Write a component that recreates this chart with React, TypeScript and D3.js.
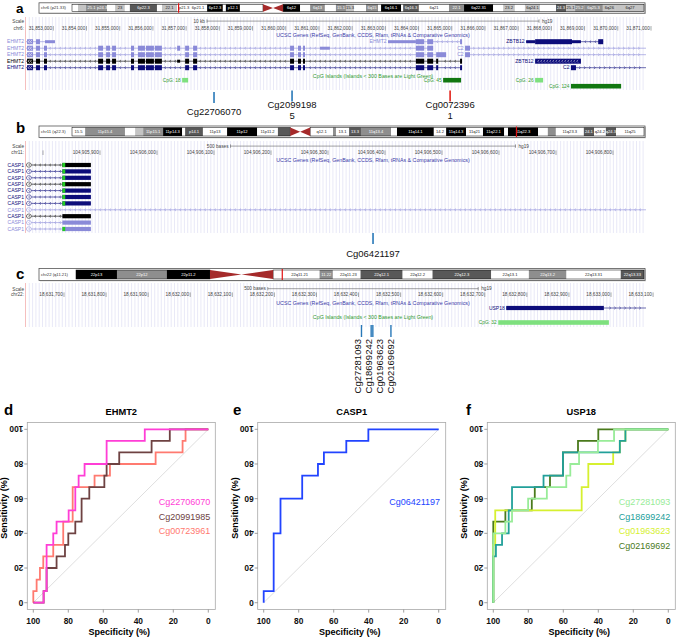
import React from "react";
import * as d3 from "d3";

const FONT = "'Liberation Sans', Arial, Helvetica, sans-serif";

/* ===================== Genome browser data (panels a–c) ===================== */
type Band = [string, number, number, string];

const CHR6_NAME = "chr6 (p21.33)";
const CHR6_LENGTH = 171.0;
const CHR6_MARK = 31.86;
const CHR6_BANDS: Band[] = [
  ["", 0, 1.8, "gneg"], ["", 1.8, 4.2, "gpos25"], ["25.1", 4.2, 7.5, "gpos50"], ["p24.3", 7.5, 10.5, "gpos50"],
  ["", 10.5, 12.9, "gneg"], ["23", 12.9, 15.8, "gpos25"], ["", 15.8, 17.3, "gneg"], ["6p22.3", 17.3, 25.4, "gpos75"],
  ["", 25.4, 26.9, "gneg"], ["22.1", 26.9, 31.4, "gpos25"], ["p21.3", 31.4, 35.6, "gneg"], ["6p21.1", 35.6, 39.8, "gneg"],
  ["", 39.8, 40.4, "gneg"], ["6p12.3", 40.4, 45.1, "gpos100"], ["", 45.1, 46.0, "gneg"], ["p12.1", 46.0, 50.2, "gpos100"],
  ["", 50.2, 57.1, "gneg"], ["", 57.1, 63.1, "acen"], ["6q12", 63.1, 68.2, "gpos100"], ["", 68.2, 71.2, "gneg"],
  ["6q13", 71.2, 75.6, "gpos50"], ["", 75.6, 78.9, "gneg"], ["15.1", 78.9, 81.9, "gpos50"], ["15.3", 81.9, 84.3, "gpos25"],
  ["", 84.3, 87.9, "gneg"], ["6q15", 87.9, 91.5, "gpos50"], ["", 91.5, 92.4, "gneg"], ["6q16.1", 92.4, 98.4, "gpos100"],
  ["", 98.4, 99.0, "gneg"], ["6q16.3", 99.0, 103.7, "gpos75"], ["6q21", 103.7, 112.7, "gneg"], ["22.1", 112.7, 117.2, "gpos50"],
  ["6q22.31", 117.2, 125.9, "gpos100"], ["", 125.9, 128.9, "gneg"], ["23.2", 128.9, 132.4, "gpos25"], ["6q23.3", 132.4, 135.4, "gneg"],
  ["6q24.1", 135.4, 139.9, "gpos25"], ["", 139.9, 144.7, "gneg"], ["24.3", 144.7, 147.7, "gpos75"], ["25.1", 147.7, 150.4, "gpos25"],
  ["25.2", 150.4, 153.1, "gpos50"], ["6q25.3", 153.1, 158.7, "gpos50"], ["6q26", 158.7, 162.6, "gpos25"], ["6q27", 162.6, 171.0, "gpos25"],
];

const CHR11_NAME = "chr11 (q22.3)";
const CHR11_LENGTH = 135.0;
const CHR11_MARK = 104.9;
const CHR11_BANDS: Band[] = [
  ["15.5", 0, 3.1, "gneg"], ["11p15.4", 3.1, 12.5, "gpos50"], ["", 12.5, 14.9, "gneg"], ["p15.2", 14.9, 16.8, "gpos25"],
  ["11p15.1", 16.8, 21.5, "gpos50"], ["11p14.3", 21.5, 26.0, "gpos100"], ["", 26.0, 26.7, "gneg"], ["p14.1", 26.7, 30.9, "gpos75"],
  ["11p13", 30.9, 36.6, "gneg"], ["11p12", 36.6, 43.7, "gpos100"], ["11p11.2", 43.7, 48.6, "gneg"], ["", 48.6, 51.5, "gpos75"],
  ["", 51.5, 56.2, "acen"], ["q12.1", 56.2, 61.6, "gneg"], ["", 61.6, 62.3, "gpos50"], ["13.1", 62.3, 65.4, "gneg"],
  ["13.3", 65.4, 68.2, "gpos75"], ["11q13.4", 68.2, 75.3, "gpos50"], ["", 75.3, 76.7, "gneg"], ["11q14.1", 76.7, 85.4, "gpos100"],
  ["14.2", 85.4, 88.3, "gneg"], ["11q14.3", 88.3, 93.0, "gpos100"], ["11q21", 93.0, 97.0, "gneg"], ["11q22.1", 97.0, 102.0, "gpos100"],
  ["", 102.0, 102.9, "gneg"], ["11q22.3", 102.9, 110.0, "gpos100"], ["", 110.0, 112.3, "gneg"], ["", 112.3, 114.2, "gpos50"],
  ["11q23.3", 114.2, 120.8, "gneg"], ["24.1", 120.8, 123.2, "gpos75"], ["q24.2", 123.2, 126.0, "gneg"], ["q24.3", 126.0, 128.4, "gpos75"],
  ["11q25", 128.4, 135.0, "gneg"],
];

const CHR22_NAME = "chr22 (q11.21)";
const CHR22_LENGTH = 51.3;
const CHR22_MARK = 18.63;
const CHR22_BANDS: Band[] = [
  ["22p13", 0, 3.7, "gpos100"], ["22p12", 3.7, 8.2, "gpos50"], ["22p11.2", 8.2, 12.1, "gpos100"], ["", 12.1, 17.8, "acen"],
  ["", 17.8, 18.4, "gneg"], ["22q11.21", 18.4, 22.0, "gneg"], ["11.22", 22.0, 23.2, "gpos50"], ["", 23.2, 23.5, "gneg"],
  ["22q11.23", 23.5, 25.7, "gneg"], ["22q12.1", 25.7, 29.5, "gpos75"], ["22q12.2", 29.5, 32.2, "gneg"], ["22q12.3", 32.2, 37.5, "gpos75"],
  ["22q13.1", 37.5, 40.9, "gneg"], ["22q13.2", 40.9, 44.3, "gpos50"], ["22q13.31", 44.3, 49.2, "gneg"], ["22q13.33", 49.2, 51.3, "gpos75"],
];

/* rulers */
const A_TICKS = [31853000, 31854000, 31855000, 31856000, 31857000, 31858000, 31859000, 31860000, 31861000, 31862000,
  31863000, 31864000, 31865000, 31866000, 31867000, 31868000, 31869000, 31870000, 31871000];
const B_TICKS = [104905800, 104905900, 104906000, 104906100, 104906200, 104906300, 104906400, 104906500, 104906600, 104906700, 104906800];
const C_TICKS = [18631700, 18631800, 18631900, 18632000, 18632100, 18632200, 18632300, 18632400, 18632500, 18632600,
  18632700, 18632800, 18632900, 18633000, 18633100];

/* panel a genes (positions in kb) */
const EHMT2_CORE: [number, number][] = [
  [31852.21, 31852.39], [31852.48, 31852.60], [31852.72, 31852.81],
  [31854.35, 31854.50], [31854.59, 31854.71], [31854.77, 31854.89],
  [31855.34, 31855.43], [31855.55, 31855.76], [31855.79, 31856.03], [31856.06, 31856.27],
  [31856.97, 31857.09], [31857.21, 31857.33],
  [31860.13, 31860.25], [31860.37, 31860.46], [31860.52, 31860.58],
  [31863.92, 31864.17], [31864.26, 31864.44],
];
const EHMT2_EXTRA_A: [number, number] = [31856.73, 31856.82];
const EHMT2_E19: [number, number] = [31864.53, 31864.59];
const EHMT2_E20: [number, number] = [31865.25, 31865.31];
const thick = (e: [number, number]) => [e[0], e[1], 1];
const thin = (e: [number, number]) => [e[0], e[1], 0];

const A_ROWS = [
  [
    { name: "EHMT2", kind: "light", strand: -1, start: 31852.0, end: 31853.05, blocks: [[31852.21, 31852.39, 1], [31852.48, 31852.60, 1], [31852.75, 31853.05, 0]] },
    { name: "EHMT2", kind: "light", strand: -1, start: 31863.08, end: 31865.31, inline: true, blocks: [[31863.08, 31863.92, 0], [31863.92, 31864.17, 1], [31864.26, 31864.44, 1], [31865.25, 31865.31, 1]] },
    { name: "ZBTB12", kind: "navy", strand: -1, start: 31867.24, end: 31869.56, inline: true, blocks: [[31867.24, 31867.51, 0], [31867.51, 31868.62, 1], [31868.62, 31868.89, 0], [31869.41, 31869.56, 1]] },
  ],
  [
    { name: "EHMT2", kind: "light", strand: -1, start: 31852.0, end: 31864.44, blocks: [...EHMT2_CORE.map(thick), thick(EHMT2_EXTRA_A), [31861.03, 31861.33, 0]] },
    { name: "C2", kind: "light", strand: 1, start: 31865.40, end: 31872.0, inline: true, blocks: [[31865.40, 31865.55, 1]] },
  ],
  [
    { name: "EHMT2", kind: "light", strand: -1, start: 31852.0, end: 31864.83, blocks: [...EHMT2_CORE.map(thick), [31864.53, 31864.83, 1]] },
    { name: "C2", kind: "light", strand: 1, start: 31865.40, end: 31872.0, inline: true, blocks: [[31865.40, 31865.55, 1]] },
  ],
  [
    { name: "EHMT2", kind: "black", strand: -1, start: 31852.0, end: 31865.31, blocks: [...EHMT2_CORE.map(thick), thin(EHMT2_EXTRA_A), thick(EHMT2_E19), thick(EHMT2_E20)] },
    { name: "ZBTB12", kind: "navy", strand: -1, start: 31867.51, end: 31868.89, inline: true, hatched: true, blocks: [[31867.51, 31868.89, 1]] },
  ],
  [
    { name: "EHMT2", kind: "navy", strand: -1, start: 31852.0, end: 31865.31, blocks: [...EHMT2_CORE.map(thick), thick(EHMT2_E19), thick(EHMT2_E20)] },
    { name: "C2", kind: "navy", strand: 1, start: 31868.59, end: 31872.0, inline: true, blocks: [[31868.59, 31868.74, 1]] },
  ],
];

const A_CPG = [
  { label: "CpG: 18", start: 31856.88, end: 31857.06, small: true, row: 0 },
  { label: "CpG: 45", start: 31864.74, end: 31865.28, small: false, row: 0 },
  { label: "CpG: 26", start: 31867.51, end: 31867.75, small: true, row: 0 },
  { label: "CpG: 124", start: 31868.59, end: 31870.10, small: false, row: 1 },
];

const A_PROBES = [
  { id: "Cg22706070", pos: 31857.84, color: "#2878b8", wrap: false },
  { id: "Cg20991985", pos: 31860.19, color: "#2878b8", wrap: true },
  { id: "Cg00723961", pos: 31864.95, color: "#e2231a", wrap: true },
];

/* panel b (bp) */
const CASP1_KINDS = ["black", "navy", "navy", "black", "navy", "navy", "navy", "light", "black", "light", "light"];
const CASP1_HAS_START = [1, 1, 1, 1, 1, 1, 1, 0, 0, 0, 1];
const CASP1_HAS_EXON = [1, 1, 1, 1, 1, 1, 1, 0, 1, 1, 1];
const CASP1_EXON: [number, number] = [104905834, 104905884];
const CASP1_START_CODON: [number, number] = [104905834, 104905839];
const CASP1_TX_START = 104905600;
const CASP1_LONG_END = 104907000;
const B_PROBES = [{ id: "Cg06421197", pos: 104906379, color: "#2878b8" }];

/* panel c (bp) */
const USP18_TX = { name: "USP18", kind: "navy", strand: 1, start: 18632751, end: 18633110, inline: true, blocks: [[18632751, 18632983, 1]] };
const C_CPG = [{ label: "CpG: 32", start: 18632732, end: 18632995, small: true }];
const C_PROBES = [
  { id: "Cg27281093", pos: 18632407 },
  { id: "Cg18699242", pos: 18632430 },
  { id: "Cg01963623", pos: 18632434 },
  { id: "Cg02169692", pos: 18632477 },
];

/* ===================== ROC data (specificity %, sensitivity %) ===================== */
const D_CG22706070_SPEC = [100, 94.1, 94.1, 92.4, 92.4, 88.6, 88.6, 86.7, 86.7, 79.8, 79.8, 76, 76, 74.1, 74.1, 70.7, 70.7, 58.1, 58.1, 36.3, 36.3, 0];
const D_CG22706070_SENS = [0, 0, 6.7, 6.7, 33.3, 33.3, 40, 40, 46.7, 46.7, 53.3, 53.3, 66.7, 66.7, 73.3, 73.3, 80, 80, 93.3, 93.3, 100, 100];
const D_CG20991985_SPEC = [100, 94.1, 94.1, 92.4, 92.4, 86.7, 86.7, 81.9, 81.9, 80, 80, 76, 76, 72.4, 72.4, 68, 68, 59.4, 59.4, 58.1, 58.1, 50.9, 50.9, 32.4, 32.4, 22, 22, 0];
const D_CG20991985_SENS = [0, 0, 6.7, 6.7, 20, 20, 26.7, 26.7, 33.3, 33.3, 40, 40, 46.7, 46.7, 60, 60, 66.7, 66.7, 73.3, 73.3, 80, 80, 86.7, 86.7, 93.3, 93.3, 100, 100];
const D_CG00723961_SPEC = [100, 100, 98.1, 98.1, 96.2, 96.2, 94.3, 94.3, 88.6, 88.6, 82.9, 82.9, 77.5, 77.5, 65, 65, 56.2, 56.2, 30.1, 30.1, 14.7, 14.7, 13, 13, 0];
const D_CG00723961_SENS = [0, 6.7, 6.7, 13.3, 13.3, 20, 20, 26.7, 26.7, 33.3, 33.3, 46.7, 46.7, 66.7, 66.7, 73.3, 73.3, 80, 80, 86.7, 86.7, 93.3, 93.3, 100, 100];

const E_CG06421197_SPEC = [100, 100, 94.3, 94.3, 90.4, 90.4, 78, 78, 69, 69, 65.6, 65.6, 52.8, 52.8, 40.2, 40.2, 0];
const E_CG06421197_SENS = [0, 6.7, 6.7, 40, 40, 60, 60, 73.3, 73.3, 80, 80, 86.7, 86.7, 93.3, 93.3, 100, 100];

const F_CG27281093_SPEC = [100, 100, 93.1, 93.1, 89.3, 89.3, 80.1, 80.1, 69.4, 69.4, 58.3, 58.3, 56, 56, 51, 51, 40.2, 40.2, 31, 31, 0];
const F_CG27281093_SENS = [0, 40, 40, 46.7, 46.7, 53.3, 53.3, 60, 60, 66.7, 66.7, 73.3, 73.3, 80, 80, 86.7, 86.7, 93.3, 93.3, 100, 100];
const F_CG18699242_SPEC = [100, 100, 98.5, 98.5, 95, 95, 91.2, 91.2, 89.3, 89.3, 71.3, 71.3, 60.2, 60.2, 27.7, 27.7, 24.5, 24.5, 0];
const F_CG18699242_SENS = [0, 26.7, 26.7, 33.3, 33.3, 40, 40, 53.3, 53.3, 66.7, 66.7, 73.3, 73.3, 86.7, 86.7, 93.3, 93.3, 100, 100];
const F_CG01963623_SPEC = [100, 100, 98.9, 98.9, 49.5, 49.5, 45.7, 45.7, 31.5, 31.5, 27.7, 27.7, 24.5, 24.5, 0];
const F_CG01963623_SENS = [0, 33.3, 33.3, 53.3, 53.3, 66.7, 66.7, 80, 80, 86.7, 86.7, 93.3, 93.3, 100, 100];
const F_CG02169692_SPEC = [100, 100, 93.1, 93.1, 78, 78, 76.3, 76.3, 67.6, 67.6, 60.2, 60.2, 51.6, 51.6, 40, 40, 0];
const F_CG02169692_SENS = [0, 46.7, 46.7, 53.3, 53.3, 60, 60, 66.7, 66.7, 73.3, 73.3, 86.7, 86.7, 93.3, 93.3, 100, 100];

const ROC_TICKS = [100, 80, 60, 40, 20, 0];

/* ===================== styles ===================== */
const STAIN: Record<string, string> = { gneg: "#ffffff", gpos25: "#c4c4c4", gpos50: "#8e8e8e", gpos75: "#585858", gpos100: "#000000" };
const KIND_COLOR: Record<string, string> = { light: "#8a8ad8", navy: "#0c0c7a", black: "#000000" };
const CPG_LIGHT = "#7ee07e";
const CPG_DARK = "#117711";
const UCSC_TITLE = "#3a3aa8";
const CPG_TITLE = "#2f9a2f";
const WIN_L = 26, WIN_R = 646;

/* ===================== components ===================== */
function Ideogram({ y, h, name, len, bands, mark, x0 }: any) {
  const FR_L = 39, FR_R = 645, END = 644;
  const sx = d3.scaleLinear().domain([0, len]).range([x0, END]);
  const by = y + 1.5, bh = h - 3;
  const ac = bands.filter((b: Band) => b[3] === "acen");
  const acS = sx(ac[0][1]), acE = sx(ac[ac.length - 1][2]), acM = (acS + acE) / 2;
  return (
    <g>
      <rect x={FR_L + 0.8} y={y + 0.8} width={FR_R - FR_L} height={h} fill="#c8c8c8" />
      <rect x={FR_L} y={y} width={FR_R - FR_L} height={h} fill="#fff" stroke="#555" strokeWidth={0.8} />
      <text x={FR_L + 2} y={y + h / 2} dy="0.35em" fontSize={4.2} fill="#333">{name}</text>
      {bands.filter((b: Band) => b[3] !== "acen").map((b: Band, i: number) => (
        <rect key={i} x={sx(b[1])} y={by} width={sx(b[2]) - sx(b[1])} height={bh} fill={STAIN[b[3]]} />
      ))}
      <rect x={x0} y={by} width={acS - x0} height={bh} fill="none" stroke="#000" strokeWidth={0.5} />
      <rect x={acE} y={by} width={END - acE} height={bh} fill="none" stroke="#000" strokeWidth={0.5} />
      <polygon points={`${acS},${by} ${acM},${by + bh / 2} ${acS},${by + bh}`} fill="#a52a2a" />
      <polygon points={`${acE},${by} ${acM},${by + bh / 2} ${acE},${by + bh}`} fill="#a52a2a" />
      {bands.filter((b: Band) => b[0] && b[3] !== "acen").map((b: Band, i: number) => {
        const w = sx(b[2]) - sx(b[1]);
        if (w < b[0].length * 2.0) return null;
        const dark = b[3] === "gpos100" || b[3] === "gpos75" || b[3] === "gpos50";
        return (
          <text key={i} x={(sx(b[1]) + sx(b[2])) / 2} y={by + bh / 2} dy="0.35em" textAnchor="middle" fontSize={4.1} fill={dark ? "#fff" : "#222"}>{b[0]}</text>
        );
      })}
      <line x1={sx(mark)} x2={sx(mark)} y1={y + 0.5} y2={y + h - 0.5} stroke="#e01010" strokeWidth={1.2} />
    </g>
  );
}

function Gridlines({ y0, y1 }: any) {
  const xs = d3.range(WIN_L + 3.3, WIN_R, 3.3);
  return (
    <g>
      {xs.map((x, i) => <line key={i} x1={x} x2={x} y1={y0} y2={y1} stroke="#dfe0f4" strokeWidth={0.7} />)}
      <line x1={WIN_L - 0.5} x2={WIN_L - 0.5} y1={y0} y2={y1} stroke="#f4b8b8" strokeWidth={0.9} />
    </g>
  );
}

function Ruler({ x, ticks, chrom, yScale, yPos, barLabel, barLen }: any) {
  const center = 373;
  const bx0 = center - barLen / 2, bx1 = center + barLen / 2;
  const fmt = d3.format(",");
  return (
    <g fontSize={4.7} fill="#444">
      <text x={24} y={yScale} dy="0.35em" textAnchor="end">Scale</text>
      <text x={24} y={yPos} dy="0.35em" textAnchor="end">{chrom}</text>
      <text x={bx0 - 2} y={yScale - 0.6} dy="0.35em" textAnchor="end">{barLabel}</text>
      <line x1={bx0} x2={bx1} y1={yScale - 0.6} y2={yScale - 0.6} stroke="#444" strokeWidth={0.5} />
      <line x1={bx0} x2={bx0} y1={yScale - 2.3} y2={yScale + 1.1} stroke="#444" strokeWidth={0.5} />
      <line x1={bx1} x2={bx1} y1={yScale - 2.3} y2={yScale + 1.1} stroke="#444" strokeWidth={0.5} />
      <text x={bx1 + 3} y={yScale - 0.6} dy="0.35em">hg19</text>
      {ticks.map((t: number, i: number) => {
        const tx = x(t);
        const show = tx - 26 > WIN_L;
        return (
          <g key={i}>
            <line x1={tx} x2={tx} y1={yPos - 2.3} y2={yPos + 2.3} stroke="#555" strokeWidth={0.5} />
            {show && <text x={tx - 1.2} y={yPos} dy="0.35em" textAnchor="end">{fmt(t)}</text>}
          </g>
        );
      })}
    </g>
  );
}

function chevronPath(cx: number, y: number, s: number, a = 1.0, b = 1.3) {
  return `M${cx - s * a},${y - b}L${cx + s * 0.4},${y}L${cx - s * a},${y + b}`;
}

function Transcript({ tx, x, y, marginLabel, thickH = 5, thinH = 3, startMark }: any) {
  const col = KIND_COLOR[tx.kind];
  const xs = Math.max(x(tx.start), WIN_L), xe = Math.min(x(tx.end), WIN_R);
  const blocks = tx.blocks.map((b: number[]) => ({ x0: x(b[0]), x1: x(b[1]), t: b[2] }));
  const chevs: number[] = [];
  for (let cx = xs + 4; cx < xe - 2; cx += 5) {
    if (blocks.some((b: any) => cx > b.x0 - 2 && cx < b.x1 + 2)) continue;
    chevs.push(cx);
  }
  const offLeft = x(tx.start) < WIN_L;
  const firstTouches = blocks.length && blocks[0].x0 < WIN_L + 3;
  return (
    <g>
      <line x1={xs} x2={xe} y1={y} y2={y} stroke={col} strokeWidth={0.6} />
      {chevs.map((c, i) => <path key={i} d={chevronPath(c, y, tx.strand)} stroke={col} strokeWidth={0.5} fill="none" />)}
      {blocks.map((b: any, i: number) => {
        const h = b.t === 1 ? thickH : thinH;
        return <rect key={i} x={b.x0} y={y - h / 2} width={Math.max(0.8, b.x1 - b.x0)} height={h} fill={col} />;
      })}
      {tx.hatched && blocks.map((b: any, i: number) => (
        <g key={"w" + i}>
          {d3.range(b.x0 + 3, b.x1 - 1, 3).map((c: number, j: number) => (
            <path key={j} d={chevronPath(c, y, tx.strand, 0.9, 1.3)} stroke="#fff" strokeWidth={0.5} fill="none" />
          ))}
        </g>
      ))}
      {startMark && <rect x={x(startMark[0])} y={y - thickH / 2} width={x(startMark[1]) - x(startMark[0])} height={thickH} fill="#22cc22" />}
      {offLeft && firstTouches && (
        <g>
          <path d={chevronPath(WIN_L + 2.6, y, -1, 1.0, 1.5)} stroke="#fff" strokeWidth={0.7} fill="none" />
          <path d={chevronPath(WIN_L + 4.8, y, -1, 1.0, 1.5)} stroke="#fff" strokeWidth={0.7} fill="none" />
        </g>
      )}
      {offLeft && !firstTouches && (
        <g>
          <rect x={WIN_L + 0.6} y={y - 2.1} width={4.6} height={4.2} rx={1.8} fill="#fff" stroke={col} strokeWidth={0.5} />
          <path d={chevronPath(WIN_L + 3, y, -1, 1.0, 1.2)} stroke={col} strokeWidth={0.5} fill="none" />
        </g>
      )}
      {tx.inline && <text x={x(tx.start) - 1.5} y={y} dy="0.35em" textAnchor="end" fontSize={5} fill={col}>{tx.name}</text>}
    </g>
  );
}

function CpG({ x, item, y }: any) {
  const fill = item.small ? CPG_LIGHT : CPG_DARK;
  return (
    <g>
      <rect x={x(item.start)} y={y - 2.3} width={x(item.end) - x(item.start)} height={4.6} fill={fill} />
      <text x={x(item.start) - 1.5} y={y} dy="0.35em" textAnchor="end" fontSize={4.8} fill={CPG_TITLE}>{item.label}</text>
    </g>
  );
}

function dodge(xs: number[], gap: number) {
  const p = xs.slice();
  for (let it = 0; it < 60; it++) {
    for (let i = 1; i < p.length; i++) {
      if (p[i] - p[i - 1] < gap) {
        const m = (p[i] + p[i - 1]) / 2;
        p[i - 1] = m - gap / 2;
        p[i] = m + gap / 2;
      }
    }
  }
  return p;
}

function Roc({ left, title, letter, letterX, curves }: any) {
  const top = 422.4, bottom = 609.6, w = 188;
  const x = d3.scaleLinear().domain([100, 0]).range([left + 6, left + 181]);
  const y = d3.scaleLinear().domain([0, 100]).range([602.7, 429.3]);
  const line = d3.line();
  return (
    <g>
      <text x={letterX} y={415} fontSize={15} fontWeight="bold" fill="#000">{letter}</text>
      <text x={left + w / 2} y={414.5} textAnchor="middle" fontSize={9.3} fontWeight="bold" fill="#000">{title}</text>
      <rect x={left} y={top} width={w} height={bottom - top} fill="none" stroke="#a8a8a8" strokeWidth={0.8} />
      <line x1={x(100)} y1={y(0)} x2={x(0)} y2={y(100)} stroke="#d0d0d0" strokeWidth={0.7} />
      {curves.slice().reverse().map((c: any, i: number) => (
        <path key={i} d={line(c.spec.map((s: number, k: number) => [x(s), y(c.sens[k])]) as any) || ""} fill="none" stroke={c.color} strokeWidth={1.8} strokeLinejoin="miter" />
      ))}
      {ROC_TICKS.map((t, i) => (
        <g key={i}>
          <line x1={x(t)} x2={x(t)} y1={bottom} y2={bottom + 3} stroke="#777" strokeWidth={0.7} />
          <text x={x(t)} y={623.5} textAnchor="middle" fontSize={8.4} fontWeight="bold" fill="#111">{t}</text>
          <line x1={left} x2={left - 3} y1={y(t)} y2={y(t)} stroke="#777" strokeWidth={0.7} />
          <text transform={`translate(${left - 4},${y(t)}) rotate(180)`} dominantBaseline="central" fontSize={8.4} fontWeight="bold" fill="#111">{t}</text>
        </g>
      ))}
      <text x={left + w / 2 - 2} y={634.5} textAnchor="middle" fontSize={9} fontWeight="bold" fill="#000">Specificity (%)</text>
      <text transform={`translate(${left - 20},${508}) rotate(-90)`} textAnchor="middle" fontSize={9} fontWeight="bold" fill="#000">Sensitivity (%)</text>
      {curves.map((c: any, i: number) => (
        <text key={i} x={left + 131.5} y={502 + i * 14.6} dy="0.35em" fontSize={9} fill={c.color}>{c.name}</text>
      ))}
    </g>
  );
}

export default function App() {
  const xA = d3.scaleLinear().domain([31853, 31871]).range([53.3, 651]);
  const xAbp = d3.scaleLinear().domain([31853000, 31871000]).range([53.3, 651]);
  const xB = d3.scaleLinear().domain([104905900, 104906800]).range([100, 613]);
  const xC = d3.scaleLinear().domain([18631700, 18633000]).range([64, 611]);

  const aRowY = (i: number) => 41.7 + i * 6.5;
  const bRowY = (i: number) => 165 + i * 6.4;

  const cTickX = C_PROBES.map(p => xC(p.pos));
  const cLabelX = dodge(cTickX, 11);

  const dCurves = [
    { name: "Cg22706070", color: "#ff3ed6", spec: D_CG22706070_SPEC, sens: D_CG22706070_SENS },
    { name: "Cg20991985", color: "#6e4242", spec: D_CG20991985_SPEC, sens: D_CG20991985_SENS },
    { name: "Cg00723961", color: "#ff7a70", spec: D_CG00723961_SPEC, sens: D_CG00723961_SENS },
  ];
  const eCurves = [{ name: "Cg06421197", color: "#2244ff", spec: E_CG06421197_SPEC, sens: E_CG06421197_SENS }];
  const fCurves = [
    { name: "Cg27281093", color: "#98ec98", spec: F_CG27281093_SPEC, sens: F_CG27281093_SENS },
    { name: "Cg18699242", color: "#22a09a", spec: F_CG18699242_SPEC, sens: F_CG18699242_SENS },
    { name: "Cg01963623", color: "#d6f030", spec: F_CG01963623_SPEC, sens: F_CG01963623_SENS },
    { name: "Cg02169692", color: "#4a7a1c", spec: F_CG02169692_SPEC, sens: F_CG02169692_SENS },
  ];

  return (
    <svg width={676} height={638} viewBox="0 0 676 638" style={{ position: "absolute", left: 0, top: 0, background: "#fff" }} fontFamily={FONT}>
      <rect width={676} height={638} fill="#fff" />
      <defs>
        <clipPath id="winA"><rect x={WIN_L} y={0} width={WIN_R - WIN_L} height={400} /></clipPath>
        <clipPath id="winC"><rect x={WIN_L} y={0} width={658 - WIN_L} height={400} /></clipPath>
      </defs>

      {/* ---------- panel a ---------- */}
      <text x={16} y={12.6} fontSize={13.5} fontWeight="bold">a</text>
      <Ideogram y={2.8} h={10.4} name={CHR6_NAME} len={CHR6_LENGTH} bands={CHR6_BANDS} mark={CHR6_MARK} x0={72} />
      <Gridlines y0={17} y1={90} />
      <Ruler x={xAbp} ticks={A_TICKS} chrom="chr6:" yScale={21.7} yPos={28.3} barLabel="10 kb" barLen={xAbp(31863000) - xAbp(31853000)} />
      <text x={373} y={35} dy="0.35em" textAnchor="middle" fontSize={5.3} fill={UCSC_TITLE}>UCSC Genes (RefSeq, GenBank, CCDS, Rfam, tRNAs &amp; Comparative Genomics)</text>
      <g clipPath="url(#winA)">
        {A_ROWS.map((row, i) => row.map((tx, j) => (
          <Transcript key={i + "-" + j} tx={tx} x={xA} y={aRowY(i)} />
        )))}
      </g>
      {A_ROWS.map((row, i) => (
        <text key={i} x={24} y={aRowY(i)} dy="0.35em" textAnchor="end" fontSize={5} fill={KIND_COLOR[row[0].kind]}>{row[0].name}</text>
      ))}
      <text x={373} y={76} dy="0.35em" textAnchor="middle" fontSize={5.3} fill={CPG_TITLE}>CpG Islands (Islands &lt; 300 Bases are Light Green)</text>
      {A_CPG.map((c, i) => <CpG key={i} x={xA} item={c} y={80.2 + c.row * 6} />)}
      {A_PROBES.map((p, i) => {
        const px = xA(p.pos);
        return (
          <g key={i}>
            <line x1={px} x2={px} y1={p.wrap ? 90.5 : 92} y2={p.wrap ? 101.5 : 103} stroke={p.color} strokeWidth={1.6} />
            {p.wrap ? (
              <text textAnchor="middle" fontSize={9.5} fill="#111">
                <tspan x={px} y={107.5}>{p.id.slice(0, 9)}</tspan>
                <tspan x={px} y={119}>{p.id.slice(9)}</tspan>
              </text>
            ) : (
              <text x={px} y={115} textAnchor="middle" fontSize={9.5} fill="#111">{p.id}</text>
            )}
          </g>
        );
      })}

      {/* ---------- panel b ---------- */}
      <text x={16} y={133} fontSize={15} fontWeight="bold">b</text>
      <Ideogram y={126} h={11.5} name={CHR11_NAME} len={CHR11_LENGTH} bands={CHR11_BANDS} mark={CHR11_MARK} x0={72} />
      <Gridlines y0={141} y1={233} />
      <Ruler x={xB} ticks={B_TICKS} chrom="chr11:" yScale={146.7} yPos={152.7} barLabel="500 bases" barLen={xB(104906400) - xB(104905900)} />
      <text x={373} y={160} dy="0.35em" textAnchor="middle" fontSize={5.3} fill={UCSC_TITLE}>UCSC Genes (RefSeq, GenBank, CCDS, Rfam, tRNAs &amp; Comparative Genomics)</text>
      <g clipPath="url(#winA)">
        {CASP1_KINDS.map((k, i) => {
          const tx = {
            name: "CASP1", kind: k, strand: -1, start: CASP1_TX_START,
            end: CASP1_HAS_EXON[i] ? CASP1_EXON[1] : CASP1_LONG_END,
            blocks: CASP1_HAS_EXON[i] ? [[CASP1_EXON[0], CASP1_EXON[1], 1]] : [],
          };
          return <Transcript key={i} tx={tx} x={xB} y={bRowY(i)} thickH={4.2} startMark={CASP1_HAS_START[i] ? CASP1_START_CODON : null} />;
        })}
      </g>
      {CASP1_KINDS.map((k, i) => (
        <text key={i} x={24} y={bRowY(i)} dy="0.35em" textAnchor="end" fontSize={5} fill={k === "light" ? KIND_COLOR.light : KIND_COLOR.navy}>CASP1</text>
      ))}
      {B_PROBES.map((p, i) => {
        const px = xB(p.pos);
        return (
          <g key={i}>
            <line x1={px} x2={px} y1={233} y2={244} stroke={p.color} strokeWidth={1.6} />
            <text x={px} y={256.5} textAnchor="middle" fontSize={9.5} fill="#111">{p.id}</text>
          </g>
        );
      })}

      {/* ---------- panel c ---------- */}
      <text x={16} y={279.3} fontSize={15} fontWeight="bold">c</text>
      <Ideogram y={268.5} h={12} name={CHR22_NAME} len={CHR22_LENGTH} bands={CHR22_BANDS} mark={CHR22_MARK} x0={76} />
      <Gridlines y0={283} y1={327} />
      <Ruler x={xC} ticks={C_TICKS} chrom="chr22:" yScale={289.3} yPos={294.7} barLabel="500 bases" barLen={xC(18632200) - xC(18631700)} />
      <text x={373} y={302.7} dy="0.35em" textAnchor="middle" fontSize={5.3} fill={UCSC_TITLE}>UCSC Genes (RefSeq, GenBank, CCDS, Rfam, tRNAs &amp; Comparative Genomics)</text>
      <g clipPath="url(#winC)">
        <Transcript tx={USP18_TX} x={xC} y={308} thickH={4.2} />
      </g>
      <text x={373} y={316.7} dy="0.35em" textAnchor="middle" fontSize={5.3} fill={CPG_TITLE}>CpG Islands (Islands &lt; 300 Bases are Light Green)</text>
      {C_CPG.map((c, i) => <CpG key={i} x={xC} item={c} y={322.5} />)}
      {C_PROBES.map((p, i) => (
        <g key={i}>
          <line x1={cTickX[i]} x2={cTickX[i]} y1={325} y2={337} stroke="#2878b8" strokeWidth={1.4} />
          <text transform={`translate(${cLabelX[i] + 3.5},${339}) rotate(-90)`} textAnchor="end" fontSize={9.5} fill="#111">{p.id}</text>
        </g>
      ))}

      {/* ---------- panels d–f ---------- */}
      <Roc left={27.3} title="EHMT2" letter="d" letterX={4} curves={dCurves} />
      <Roc left={257.7} title="CASP1" letter="e" letterX={233} curves={eCurves} />
      <Roc left={487.3} title="USP18" letter="f" letterX={466} curves={fCurves} />
    </svg>
  );
}
